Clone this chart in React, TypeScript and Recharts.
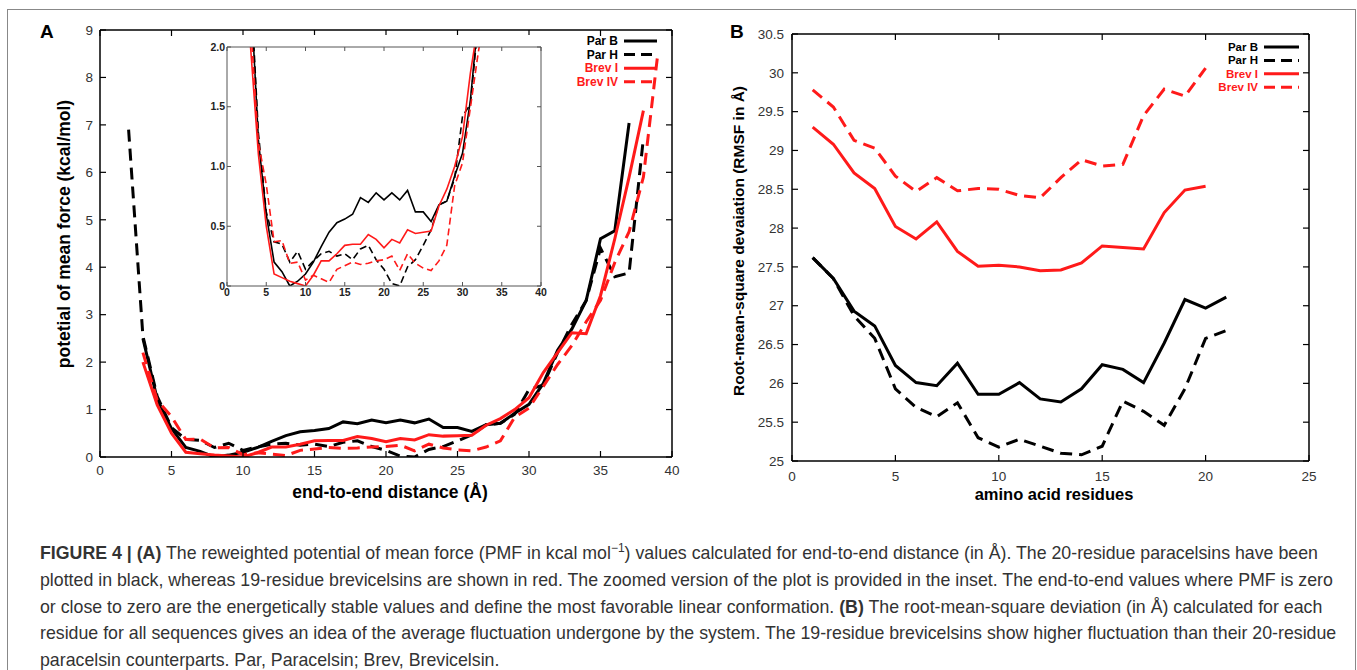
import React from 'react';
import { LineChart, Line, XAxis, YAxis } from 'recharts';

// Panel A: potential of mean force vs end-to-end distance (Å)
const distance = [2, 3, 4, 5, 6, 7, 8, 9, 10, 11, 12, 13, 14, 15, 16, 17, 18, 19, 20, 21, 22, 23, 24, 25, 26, 27, 28, 29, 30, 31, 32, 33, 34, 35, 36, 37, 38, 39];
const parB_pmf = [null, 2.5, 1.22, 0.6, 0.2, 0.12, 0.0, 0.04, 0.1, 0.2, 0.33, 0.45, 0.53, 0.56, 0.6, 0.74, 0.7, 0.78, 0.72, 0.78, 0.72, 0.8, 0.62, 0.62, 0.54, 0.68, 0.71, 0.92, 1.11, 1.55, 2.25, 2.7, 3.3, 4.6, 4.77, 7.04, null, null];
const parH_pmf = [6.9, 2.55, 1.28, 0.62, 0.37, 0.35, 0.2, 0.29, 0.14, 0.21, 0.27, 0.29, 0.25, 0.27, 0.22, 0.31, 0.34, 0.22, 0.14, 0.02, 0.0, 0.16, 0.22, 0.34, 0.47, 0.68, 0.71, 0.9, 1.42, 1.52, 2.2, 2.8, 3.3, 4.4, 3.8, 3.88, 6.72, null];
const brevI_pmf = [null, 2.0, 1.1, 0.5, 0.1, 0.07, 0.04, 0.02, 0.0, 0.09, 0.21, 0.21, 0.27, 0.34, 0.35, 0.35, 0.43, 0.39, 0.32, 0.39, 0.36, 0.47, 0.44, 0.45, 0.46, 0.67, 0.81, 1.0, 1.25, 1.78, 2.2, 2.62, 2.6, 3.4, 4.6, 5.9, 7.3, null];
const brevIV_pmf = [null, 2.2, 1.2, 0.85, 0.37, 0.38, 0.19, 0.2, 0.05, 0.09, 0.06, 0.03, 0.14, 0.17, 0.2, 0.18, 0.19, 0.21, 0.22, 0.25, 0.13, 0.27, 0.19, 0.15, 0.13, 0.21, 0.34, 0.84, 1.03, 1.49, 1.95, 2.35, 2.85, 3.3, 4.1, 4.75, 5.9, 8.48];

// Panel B: RMSF per residue
const residue = [1, 2, 3, 4, 5, 6, 7, 8, 9, 10, 11, 12, 13, 14, 15, 16, 17, 18, 19, 20, 21];
const parB_rmsf = [27.62, 27.35, 26.93, 26.74, 26.23, 26.01, 25.97, 26.26, 25.86, 25.86, 26.01, 25.8, 25.76, 25.93, 26.24, 26.18, 26.01, 26.52, 27.08, 26.97, 27.11];
const parH_rmsf = [27.62, 27.35, 26.87, 26.58, 25.93, 25.69, 25.57, 25.75, 25.3, 25.18, 25.28, 25.19, 25.1, 25.08, 25.19, 25.77, 25.64, 25.46, 25.93, 26.58, 26.68];
const brevI_rmsf = [29.3, 29.08, 28.71, 28.51, 28.02, 27.86, 28.08, 27.7, 27.51, 27.52, 27.5, 27.45, 27.46, 27.55, 27.77, 27.75, 27.73, 28.2, 28.49, 28.54, null];
const brevIV_rmsf = [29.78, 29.56, 29.13, 29.03, 28.67, 28.47, 28.65, 28.48, 28.51, 28.5, 28.42, 28.39, 28.65, 28.88, 28.8, 28.82, 29.45, 29.79, 29.7, 30.06, null];

const xTicksA = [0, 5, 10, 15, 20, 25, 30, 35, 40];
const yTicksA = [0, 1, 2, 3, 4, 5, 6, 7, 8, 9];
const yTicksInset = [0, 0.5, 1.0, 1.5, 2.0];
const xTicksB = [0, 5, 10, 15, 20, 25];
const yTicksB = [25, 25.5, 26, 26.5, 27, 27.5, 28, 28.5, 29, 29.5, 30, 30.5];

const seriesNames = ['Par B', 'Par H', 'Brev I', 'Brev IV'];

const RED = '#ff1a1a';
const FONT = '"Liberation Sans", Arial, sans-serif';

const pmfRows = distance.map((d, i) => ({
  d,
  parB: parB_pmf[i],
  parH: parH_pmf[i],
  brevI: brevI_pmf[i],
  brevIV: brevIV_pmf[i],
}));

const rmsfRows = residue.map((r, i) => ({
  r,
  parB: parB_rmsf[i],
  parH: parH_rmsf[i],
  brevI: brevI_rmsf[i],
  brevIV: brevIV_rmsf[i],
}));

const styles = [
  { key: 'parB', color: '#000', dash: undefined },
  { key: 'parH', color: '#000', dash: '12 7' },
  { key: 'brevI', color: RED, dash: undefined },
  { key: 'brevIV', color: RED, dash: '12 7' },
];

// gnuplot style: tick marks pointing into the plot, label outside
function makeTick(side, len, margin, color, width, text = null, fmt = (v) => String(v)) {
  return (props) => {
    const { x, y, payload } = props;
    let line;
    let label = null;
    if (side === 'bottom') {
      const ay = y - margin;
      line = <line x1={x} x2={x} y1={ay} y2={ay - len} stroke={color} strokeWidth={width} />;
      if (text) label = <text x={x} y={y} dy="0.71em" textAnchor="middle" {...text}>{fmt(payload.value)}</text>;
    } else if (side === 'left') {
      const ax = x + margin;
      line = <line x1={ax} x2={ax + len} y1={y} y2={y} stroke={color} strokeWidth={width} />;
      if (text) label = <text x={x} y={y} dy="0.35em" textAnchor="end" {...text}>{fmt(payload.value)}</text>;
    } else if (side === 'top') {
      line = <line x1={x} x2={x} y1={y} y2={y + len} stroke={color} strokeWidth={width} />;
    } else {
      line = <line x1={x} x2={x - len} y1={y} y2={y} stroke={color} strokeWidth={width} />;
    }
    return <g>{line}{label}</g>;
  };
}

function LegendBox({ left, top, rowGap, fontSize, lineLen }) {
  return (
    <svg style={{ position: 'absolute', left, top, overflow: 'visible' }} width={120} height={rowGap * 4}>
      {seriesNames.map((name, i) => (
        <g key={name}>
          <text x={60} y={i * rowGap} dy="0.35em" textAnchor="end" fontFamily={FONT} fontWeight="bold"
            fontSize={fontSize} fill={styles[i].color}>{name}</text>
          <line x1={66} x2={66 + lineLen} y1={i * rowGap} y2={i * rowGap} stroke={styles[i].color}
            strokeWidth={3} strokeDasharray={styles[i].dash ? '11 6' : undefined} />
        </g>
      ))}
    </svg>
  );
}

const tickText = { fill: '#333', fontSize: 13.5, fontFamily: FONT };
const insetText = { fill: '#222', fontSize: 10.5, fontWeight: 'bold', fontFamily: FONT };
const insetFmt = (v) => (v === 0 ? '0' : v.toFixed(1));

export default function App() {
  return (
    <div style={{ position: 'absolute', left: 0, top: 0, width: 1357, height: 670, background: '#fff', overflow: 'hidden', fontFamily: FONT }}>
      <div style={{ position: 'absolute', left: 7, top: 9, width: 1347, height: 700, border: '1px solid #888' }} />

      {/* Panel A */}
      <div style={{ position: 'absolute', left: 0, top: 0 }}>
        <LineChart width={690} height={520} data={pmfRows} margin={{ top: 29, right: 17, bottom: 33, left: 70 }}>
          <XAxis dataKey="d" type="number" domain={[0, 40]} ticks={xTicksA} interval={0} allowDataOverflow height={30}
            tickLine={false} tickSize={0} tickMargin={8} stroke="#000" strokeWidth={1.5}
            tick={makeTick('bottom', 6, 8, '#000', 1.2, tickText)} />
          <XAxis xAxisId="top" orientation="top" dataKey="d" type="number" domain={[0, 40]} ticks={xTicksA} interval={0}
            allowDataOverflow height={1} tickLine={false} tickSize={0} tickMargin={0} stroke="#000" strokeWidth={1.5}
            tick={makeTick('top', 6, 0, '#000', 1.2)} />
          <YAxis type="number" domain={[0, 9]} ticks={yTicksA} interval={0} allowDataOverflow width={30}
            tickLine={false} tickSize={0} tickMargin={7} stroke="#000" strokeWidth={1.5}
            tick={makeTick('left', 6, 7, '#000', 1.2, tickText)} />
          <YAxis yAxisId="right" orientation="right" type="number" domain={[0, 9]} ticks={yTicksA} interval={0}
            allowDataOverflow width={1} tickLine={false} tickSize={0} tickMargin={0} stroke="#000" strokeWidth={1.5}
            tick={makeTick('right', 6, 0, '#000', 1.2)} />
          {styles.map((s) => (
            <Line key={s.key} dataKey={s.key} stroke={s.color} strokeWidth={3} strokeDasharray={s.dash}
              dot={false} isAnimationActive={false} />
          ))}
        </LineChart>
      </div>

      {/* Inset */}
      <div style={{ position: 'absolute', left: 190, top: 35 }}>
        <LineChart width={360} height={275} data={pmfRows} margin={{ top: 11, right: 8, bottom: 6, left: 12 }}
          style={{ background: '#fff' }}>
          <XAxis dataKey="d" type="number" domain={[0, 40]} ticks={xTicksA} interval={0} allowDataOverflow height={18}
            tickLine={false} tickSize={0} tickMargin={3} stroke="#555" strokeWidth={1}
            tick={makeTick('bottom', 4, 3, '#555', 1, insetText)} />
          <XAxis xAxisId="top" orientation="top" dataKey="d" type="number" domain={[0, 40]} ticks={xTicksA} interval={0}
            allowDataOverflow height={1} tickLine={false} tickSize={0} tickMargin={0} stroke="#555" strokeWidth={1}
            tick={makeTick('top', 4, 0, '#555', 1)} />
          <YAxis type="number" domain={[0, 2]} ticks={yTicksInset} interval={0} allowDataOverflow width={25}
            tickLine={false} tickSize={0} tickMargin={2} stroke="#555" strokeWidth={1}
            tick={makeTick('left', 4, 2, '#555', 1, insetText, insetFmt)} />
          <YAxis yAxisId="right" orientation="right" type="number" domain={[0, 2]} ticks={yTicksInset} interval={0}
            allowDataOverflow width={1} tickLine={false} tickSize={0} tickMargin={0} stroke="#555" strokeWidth={1}
            tick={makeTick('right', 4, 0, '#555', 1)} />
          {styles.map((s) => (
            <Line key={s.key} dataKey={s.key} stroke={s.color} strokeWidth={1.6}
              strokeDasharray={s.dash ? '7 4' : undefined} dot={false} isAnimationActive={false} />
          ))}
        </LineChart>
      </div>

      <LegendBox left={558} top={41} rowGap={13.6} fontSize={12} lineLen={33} />

      <div style={{ position: 'absolute', left: 40, top: 21, fontSize: 19, fontWeight: 'bold' }}>A</div>
      <div style={{ position: 'absolute', left: 64, top: 234, width: 0, height: 0 }}>
        <div style={{ position: 'absolute', transform: 'translate(-50%, -50%) rotate(-90deg)', whiteSpace: 'nowrap', fontSize: 17.5, fontWeight: 'bold' }}>
          potetial of mean force (kcal/mol)
        </div>
      </div>
      <div style={{ position: 'absolute', left: 390, top: 492, width: 0, height: 0 }}>
        <div style={{ position: 'absolute', transform: 'translate(-50%, -50%)', whiteSpace: 'nowrap', fontSize: 17.5, fontWeight: 'bold' }}>
          end-to-end distance (Å)
        </div>
      </div>

      {/* Panel B */}
      <div style={{ position: 'absolute', left: 700, top: 0 }}>
        <LineChart width={657} height={520} data={rmsfRows} margin={{ top: 33, right: 47, bottom: 29, left: 52 }}>
          <XAxis dataKey="r" type="number" domain={[0, 25]} ticks={xTicksB} interval={0} allowDataOverflow height={30}
            tickLine={false} tickSize={0} tickMargin={10} stroke="#000" strokeWidth={1.5}
            tick={makeTick('bottom', 6, 10, '#000', 1.2, tickText)} />
          <XAxis xAxisId="top" orientation="top" dataKey="r" type="number" domain={[0, 25]} ticks={xTicksB} interval={0}
            allowDataOverflow height={1} tickLine={false} tickSize={0} tickMargin={0} stroke="#000" strokeWidth={1.5}
            tick={makeTick('top', 6, 0, '#000', 1.2)} />
          <YAxis type="number" domain={[25, 30.5]} ticks={yTicksB} interval={0} allowDataOverflow width={40}
            tickLine={false} tickSize={0} tickMargin={8} stroke="#000" strokeWidth={1.5}
            tick={makeTick('left', 6, 8, '#000', 1.2, tickText)} />
          <YAxis yAxisId="right" orientation="right" type="number" domain={[25, 30.5]} ticks={yTicksB} interval={0}
            allowDataOverflow width={1} tickLine={false} tickSize={0} tickMargin={0} stroke="#000" strokeWidth={1.5}
            tick={makeTick('right', 6, 0, '#000', 1.2)} />
          {styles.map((s) => (
            <Line key={s.key} dataKey={s.key} stroke={s.color} strokeWidth={3} strokeDasharray={s.dash}
              dot={false} isAnimationActive={false} />
          ))}
        </LineChart>
      </div>

      <LegendBox left={1198} top={47} rowGap={13.4} fontSize={11.5} lineLen={35} />

      <div style={{ position: 'absolute', left: 730, top: 21, fontSize: 19, fontWeight: 'bold' }}>B</div>
      <div style={{ position: 'absolute', left: 739, top: 241, width: 0, height: 0 }}>
        <div style={{ position: 'absolute', transform: 'translate(-50%, -50%) rotate(-90deg)', whiteSpace: 'nowrap', fontSize: 15.5, fontWeight: 'bold' }}>
          Root-mean-square devaiation (RMSF in Å)
        </div>
      </div>
      <div style={{ position: 'absolute', left: 1054, top: 494, width: 0, height: 0 }}>
        <div style={{ position: 'absolute', transform: 'translate(-50%, -50%)', whiteSpace: 'nowrap', fontSize: 16.5, fontWeight: 'bold' }}>
          amino acid residues
        </div>
      </div>

      {/* Caption */}
      <div style={{ position: 'absolute', left: 40, top: 540, fontSize: 17.75, lineHeight: '26.75px', color: '#333', whiteSpace: 'nowrap' }}>
        <div><b>FIGURE 4 | (A)</b> The reweighted potential of mean force (PMF in kcal mol<sup style={{ fontSize: 12, lineHeight: 0 }}>−1</sup>) values calculated for end-to-end distance (in Å). The 20-residue paracelsins have been</div>
        <div>plotted in black, whereas 19-residue brevicelsins are shown in red. The zoomed version of the plot is provided in the inset. The end-to-end values where PMF is zero</div>
        <div>or close to zero are the energetically stable values and define the most favorable linear conformation. <b>(B)</b> The root-mean-square deviation (in Å) calculated for each</div>
        <div>residue for all sequences gives an idea of the average fluctuation undergone by the system. The 19-residue brevicelsins show higher fluctuation than their 20-residue</div>
        <div>paracelsin counterparts. Par, Paracelsin; Brev, Brevicelsin.</div>
      </div>
    </div>
  );
}
